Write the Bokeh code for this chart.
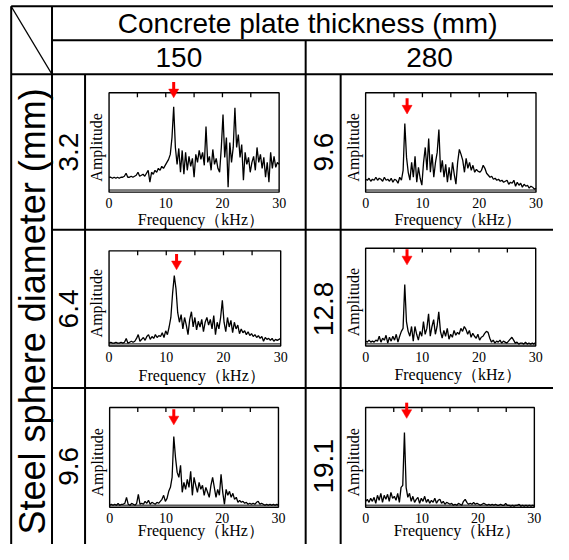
import numpy as np
from bokeh.plotting import figure
from bokeh.models import Range1d
from bokeh.core.properties import value
from bokeh.embed import file_html
from bokeh.resources import INLINE

# ---------------- data ----------------
# frequency grid of the spectra (kHz), 0.3 kHz spacing
freq_khz = np.linspace(0, 30, 101)

# normalised amplitudes (0 = bottom of frame, 1 = top)
amp_150_d32 = [0.15, 0.15, 0.14, 0.15, 0.14, 0.15, 0.14, 0.15, 0.15, 0.16,
               0.19, 0.15, 0.15, 0.16, 0.15, 0.16, 0.17, 0.20, 0.16, 0.17,
               0.18, 0.16, 0.19, 0.22, 0.10, 0.20, 0.18, 0.22, 0.20, 0.24,
               0.22, 0.26, 0.24, 0.27, 0.30, 0.33, 0.38, 0.55, 0.86, 0.45,
               0.28, 0.44, 0.20, 0.42, 0.18, 0.40, 0.22, 0.36, 0.26, 0.34,
               0.15, 0.38, 0.30, 0.42, 0.33, 0.40, 0.27, 0.66, 0.30, 0.36,
               0.22, 0.43, 0.28, 0.34, 0.24, 0.20, 0.45, 0.78, 0.35, 0.55,
               0.05, 0.50, 0.30, 0.45, 0.85, 0.45, 0.58, 0.35, 0.48, 0.12,
               0.40, 0.28, 0.35, 0.20, 0.30, 0.36, 0.22, 0.45, 0.30, 0.38,
               0.24, 0.35, 0.15, 0.30, 0.10, 0.40, 0.24, 0.36, 0.25, 0.30,
               0.28]
amp_150_d64 = [0.03, 0.04, 0.03, 0.03, 0.04, 0.03, 0.03, 0.04, 0.03, 0.04,
               0.08, 0.03, 0.04, 0.05, 0.04, 0.05, 0.08, 0.12, 0.05, 0.07,
               0.09, 0.06, 0.10, 0.12, 0.07, 0.10, 0.08, 0.12, 0.09, 0.11,
               0.10, 0.14, 0.09, 0.16, 0.12, 0.20, 0.30, 0.55, 0.74, 0.60,
               0.35, 0.25, 0.33, 0.18, 0.30, 0.22, 0.12, 0.28, 0.36, 0.20,
               0.30, 0.17, 0.26, 0.20, 0.28, 0.15, 0.25, 0.30, 0.22, 0.28,
               0.18, 0.32, 0.12, 0.25, 0.18, 0.30, 0.48, 0.25, 0.15, 0.30,
               0.20, 0.27, 0.14, 0.25, 0.18, 0.22, 0.13, 0.18, 0.14, 0.16,
               0.12, 0.15, 0.11, 0.13, 0.10, 0.12, 0.09, 0.11, 0.08, 0.10,
               0.05, 0.09, 0.07, 0.08, 0.06, 0.08, 0.05, 0.07, 0.06, 0.07,
               0.08]
amp_150_d96 = [0.02, 0.03, 0.02, 0.03, 0.02, 0.04, 0.02, 0.03, 0.03, 0.04,
               0.10, 0.03, 0.02, 0.04, 0.03, 0.02, 0.04, 0.13, 0.03, 0.04,
               0.03, 0.06, 0.04, 0.07, 0.03, 0.05, 0.04, 0.03, 0.05, 0.04,
               0.06, 0.08, 0.12, 0.06, 0.09, 0.16, 0.20, 0.30, 0.71, 0.50,
               0.35, 0.30, 0.42, 0.15, 0.25, 0.18, 0.28, 0.20, 0.36, 0.12,
               0.30, 0.22, 0.15, 0.25, 0.18, 0.22, 0.12, 0.20, 0.15, 0.10,
               0.22, 0.30, 0.20, 0.10, 0.18, 0.12, 0.33, 0.15, 0.03, 0.18,
               0.12, 0.16, 0.10, 0.14, 0.08, 0.10, 0.05, 0.07, 0.05, 0.06,
               0.04, 0.05, 0.03, 0.04, 0.03, 0.04, 0.03, 0.05, 0.06, 0.03,
               0.04, 0.03, 0.02, 0.03, 0.02, 0.03, 0.02, 0.03, 0.02, 0.03,
               0.02]
amp_280_d96 = [0.13, 0.12, 0.14, 0.11, 0.13, 0.12, 0.15, 0.12, 0.14, 0.13,
               0.11, 0.15, 0.12, 0.13, 0.11, 0.14, 0.10, 0.13, 0.12, 0.09,
               0.15, 0.12, 0.22, 0.69, 0.35, 0.20, 0.12, 0.30, 0.15, 0.36,
               0.10, 0.25, 0.14, 0.07, 0.30, 0.45, 0.22, 0.54, 0.20, 0.38,
               0.15, 0.30, 0.40, 0.63, 0.20, 0.32, 0.15, 0.28, 0.10, 0.25,
               0.12, 0.30, 0.18, 0.08, 0.30, 0.43, 0.38, 0.32, 0.20, 0.34,
               0.24, 0.30, 0.22, 0.27, 0.20, 0.23, 0.21, 0.20, 0.22, 0.27,
               0.24, 0.19, 0.17, 0.15, 0.16, 0.13, 0.14, 0.12, 0.13, 0.11,
               0.12, 0.10, 0.11, 0.12, 0.08, 0.10, 0.09, 0.12, 0.06, 0.10,
               0.07, 0.09, 0.05, 0.08, 0.06, 0.07, 0.04, 0.06, 0.05, 0.03,
               0.04]
amp_280_d128 = [0.05, 0.04, 0.06, 0.04, 0.05, 0.04, 0.06, 0.05, 0.10, 0.04,
                0.08, 0.06, 0.11, 0.03, 0.09, 0.05, 0.10, 0.06, 0.12, 0.04,
                0.10, 0.15, 0.18, 0.63, 0.25, 0.15, 0.10, 0.20, 0.05, 0.20,
                0.12, 0.06, 0.15, 0.10, 0.25, 0.12, 0.18, 0.33, 0.10, 0.20,
                0.27, 0.12, 0.20, 0.35, 0.15, 0.08, 0.16, 0.10, 0.18, 0.07,
                0.12, 0.09, 0.16, 0.11, 0.14, 0.12, 0.18, 0.15, 0.20, 0.17,
                0.12, 0.16, 0.09, 0.13, 0.10, 0.08, 0.12, 0.06, 0.09, 0.10,
                0.13, 0.15, 0.14, 0.08, 0.04, 0.06, 0.03, 0.05, 0.04, 0.06,
                0.03, 0.05, 0.04, 0.03, 0.05, 0.07, 0.09, 0.06, 0.03, 0.04,
                0.02, 0.03, 0.03, 0.02, 0.04, 0.02, 0.03, 0.02, 0.03, 0.02,
                0.04]
amp_280_d191 = [0.06, 0.08, 0.05, 0.09, 0.06, 0.10, 0.04, 0.12, 0.07, 0.14,
                0.05, 0.12, 0.08, 0.13, 0.06, 0.15, 0.09, 0.11, 0.07, 0.14,
                0.05, 0.20, 0.22, 0.75, 0.20, 0.10, 0.14, 0.06, 0.11, 0.05,
                0.08, 0.10, 0.04, 0.09, 0.06, 0.11, 0.05, 0.08, 0.04, 0.07,
                0.05, 0.09, 0.04, 0.07, 0.08, 0.04, 0.06, 0.03, 0.05, 0.04,
                0.03, 0.04, 0.02, 0.03, 0.02, 0.04, 0.03, 0.02, 0.06, 0.08,
                0.05, 0.03, 0.04, 0.03, 0.05, 0.03, 0.04, 0.03, 0.02, 0.03,
                0.04, 0.03, 0.02, 0.03, 0.02, 0.03, 0.02, 0.03, 0.02, 0.02,
                0.03, 0.02, 0.02, 0.04, 0.02, 0.02, 0.01, 0.02, 0.01, 0.02,
                0.02, 0.03, 0.01, 0.02, 0.01, 0.02, 0.01, 0.02, 0.01, 0.02,
                0.01]

amplitudes = [[amp_150_d32, amp_150_d64, amp_150_d96],
              [amp_280_d96, amp_280_d128, amp_280_d191]]

header_title = "Concrete plate thickness (mm)"
row_title = "Steel sphere diameter (mm)"
thickness_labels = ["150", "280"]
diameter_labels = [["3.2", "6.4", "9.6"], ["9.6", "12.8", "19.1"]]
peak_khz = [[11.4, 11.8, 11.4], [7.3, 7.3, 7.3]]   # red arrows

x_ticks = [5, 10, 15, 20, 25]
x_tick_values = [0, 10, 20, 30]
x_tick_labels = ["0", "10", "20", "30"]
x_title = "Frequency\uff08kHz\uff09"
y_title = "Amplitude"

# ---------------- layout (reference pixel coordinates) ----------------
# frames: left, right, top, bottom
frames = [[(111.7, 286.7, 95.0, 197.3), (111.7, 288.3, 257.7, 355.7), (112.3, 286.0, 419.0, 521.7)],
          [(375.7, 551.0, 95.0, 197.3), (375.7, 550.7, 255.0, 355.7), (375.7, 549.3, 419.0, 521.7)]]
arrow_tip_px = [[100.0, 277.0, 436.7], [116.7, 272.0, 430.0]]
xlabel_dy = [[27, 29, 23.5], [27, 28, 23.5]]

SANS = value("Liberation Sans")
SERIF = value("Liberation Serif")

p = figure(width=553, height=544, x_range=Range1d(0, 569), y_range=Range1d(560, 0),
           output_backend="svg", toolbar_location=None, min_border=0,
           x_axis_location=None, y_axis_location=None)
p.grid.visible = False
p.outline_line_color = None
p.background_fill_color = "white"
p.border_fill_color = "white"

# table lines
hx0 = [11, 53, 11, 53, 53]
hx1 = [569, 569, 569, 569, 569]
hy = [6, 41, 76, 236, 399]
p.segment(x0=hx0, y0=hy, x1=hx1, y1=hy, line_color="black", line_width=2)
vx = [11, 53, 87, 314, 350]
vy0 = [6, 6, 76, 41, 76]
vy1 = [560, 560, 560, 560, 560]
p.segment(x0=vx, y0=vy0, x1=vx, y1=vy1, line_color="black", line_width=2)
p.segment(x0=[11], y0=[6], x1=[53], y1=[76], line_color="black", line_width=1.2)

# headers
p.text(x=[316], y=[24], text=[header_title], text_font=SANS, text_font_size="28px",
       text_align="center", text_baseline="middle", text_color="black")
p.text(x=[183.5, 441.5], y=[59, 59], text=thickness_labels, text_font=SANS,
       text_font_size="28px", text_align="center", text_baseline="middle", text_color="black")
p.text(x=[33], y=[320], text=[row_title], angle=np.pi / 2, text_font=SANS,
       text_font_size="36px", text_align="center", text_baseline="middle", text_color="black")

row_centers = [156, 317.5, 479.5]
label_cols = [70, 332]
for c in range(2):
    p.text(x=[label_cols[c]] * 3, y=row_centers, text=diameter_labels[c], angle=np.pi / 2,
           text_font=SANS, text_font_size="28px", text_align="center",
           text_baseline="middle", text_color="black")

# spectra
for c in range(2):
    for r in range(3):
        L, R, T, B = frames[c][r]
        w_px, h_px = R - L, B - T
        xy = p.subplot(x_source=Range1d(0, 30), y_source=Range1d(0, 1),
                       x_target=Range1d(L, R), y_target=Range1d(B, T))
        # baseline + trace
        xy.segment(x0=[0], y0=[2.2 / h_px], x1=[30], y1=[2.2 / h_px],
                   line_color="black", line_width=1)
        xy.line(x=freq_khz, y=amplitudes[c][r], line_color="black", line_width=1.3)
        # frame
        xy.quad(left=[0], right=[30], bottom=[0], top=[1], fill_color=None,
                line_color="black", line_width=1.4)
        # top inward ticks
        tl = 4.5 / h_px
        xy.segment(x0=x_ticks, y0=[1] * len(x_ticks), x1=x_ticks,
                   y1=[1 - tl] * len(x_ticks), line_color="black", line_width=1.3)
        # tick labels
        xy.text(x=x_tick_values, y=[0] * len(x_tick_values), text=x_tick_labels,
                y_offset=10.5, text_font=SERIF, text_font_size="14px",
                text_align="center", text_baseline="middle", text_color="black")
        # axis titles
        xy.text(x=[15 + 7 * 30 / w_px], y=[0], text=[x_title], y_offset=xlabel_dy[c][r],
                text_font=SERIF, text_font_size="16px", text_align="center",
                text_baseline="middle", text_color="black")
        xy.text(x=[-12.5 * 30 / w_px], y=[0.45], text=[y_title], angle=np.pi / 2,
                text_font=SERIF, text_font_size="16px", text_align="center",
                text_baseline="middle", text_color="black")
        # red arrow marking the resonance peak
        tip = (B - arrow_tip_px[c][r]) / h_px
        pk = peak_khz[c][r]
        xy.segment(x0=[pk], y0=[tip + 7 / h_px], x1=[pk], y1=[tip + 16 / h_px],
                   line_color="#ff0000", line_width=3)
        xy.scatter(x=[pk], y=[tip + 5.8 / h_px], marker="inverted_triangle", size=10,
                   fill_color="#ff0000", line_color="#ff0000", line_width=0.5)

open("out.html", "w").write(file_html(p, INLINE))
